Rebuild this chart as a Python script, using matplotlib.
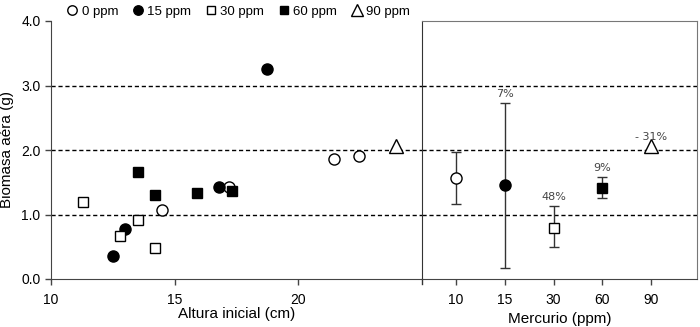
import numpy as np
import matplotlib.pyplot as plt

plt.rcParams['font.family'] = ['Liberation Sans', 'DejaVu Sans']

# initial height vs biomass, one list per mercury dose
h_0 = [14.5, 17.2, 21.45, 22.45]
b_0 = [1.07, 1.42, 1.86, 1.91]
h_15 = [12.5, 13.0, 16.8, 18.75]
b_15 = [0.36, 0.77, 1.43, 3.26]
h_30 = [11.3, 12.8, 13.5, 14.2]
b_30 = [1.19, 0.66, 0.91, 0.48]
h_60 = [13.5, 14.2, 15.9, 17.3]
b_60 = [1.66, 1.31, 1.33, 1.37]
h_90 = [23.95]
b_90 = [2.06]

# means per dose with error bar limits
doses = ['10', '15', '30', '60', '90']
mean_b = [1.56, 1.46, 0.79, 1.41, 2.06]
err_lo = [1.17, 0.17, 0.50, 1.26, 2.06]
err_hi = [1.97, 2.73, 1.13, 1.58, 2.06]
pct = ['', '7%', '48%', '9%', '- 31%']

styles = [('o', 'white', 8), ('o', 'black', 8), ('s', 'white', 7), ('s', 'black', 7), ('^', 'white', 10)]

fig = plt.figure(figsize=(7, 3.27), dpi=100)
bot = (327 - 279) / 327
top = (327 - 21) / 327
xl, xm, xr = 51 / 700, 422 / 700, 697 / 700
ax1 = fig.add_axes([xl, bot, xm - xl, top - bot])
ax2 = fig.add_axes([xm, bot, xr - xm, top - bot])

for ax in (ax1, ax2):
    ax.set_ylim(0, 4)
    for yv in (1, 2, 3):
        ax.axhline(yv, color='black', ls=(0, (3, 2)), lw=1, zorder=1)
    ax.tick_params(direction='out', length=4, width=1, color='#444444', labelsize=10)
    ax.tick_params(axis='x', pad=6)

# left panel
groups = [(h_0, b_0), (h_15, b_15), (h_30, b_30), (h_60, b_60), (h_90, b_90)]
labels = ['0 ppm', '15 ppm', '30 ppm', '60 ppm', '90 ppm']
handles = []
for (hx, by), (mk, fc, ms), lab in zip(groups, styles, labels):
    l, = ax1.plot(hx, by, ls='none', marker=mk, mfc=fc, mec='black', ms=ms, mew=1, zorder=3, label=lab)
    handles.append(l)
ax1.set_xlim(10, 25)
ax1.set_xticks([10, 15, 20])
ax1.set_yticks([0, 1, 2, 3, 4])
ax1.set_yticklabels(['0.0', '1.0', '2.0', '3.0', '4.0'])
ax1.spines['top'].set_visible(False)
ax1.spines['right'].set_visible(False)
for s in ('left', 'bottom'):
    ax1.spines[s].set_color('#444444')
ax1.set_xlabel('Altura inicial (cm)', fontsize=11, labelpad=0)
ax1.set_ylabel('Biomasa aéra (g)', fontsize=11, labelpad=5)

# right panel
pos = np.arange(1, len(doses) + 1)
for i in range(len(doses)):
    mk, fc, ms = styles[i]
    if err_hi[i] > err_lo[i]:
        ax2.errorbar(pos[i], mean_b[i], yerr=[[mean_b[i] - err_lo[i]], [err_hi[i] - mean_b[i]]],
                     fmt='none', ecolor='#333333', elinewidth=1, capsize=3.6, capthick=1, zorder=2)
    ax2.plot(pos[i], mean_b[i], marker=mk, mfc=fc, mec='black', ms=ms, mew=1, zorder=3)
    if pct[i]:
        ax2.text(pos[i], err_hi[i] + 0.06, pct[i], ha='center', va='bottom', fontsize=8,
                 color='#444444', family='DejaVu Sans')
ax2.set_xlim(0.3, 5.94)
ax2.set_xticks(pos)
ax2.set_xticklabels(doses)
ax2.set_yticks([])
ax2.tick_params(axis='y', left=False, labelleft=False)
ax2.spines['left'].set_color('#333333')
for s in ('top', 'right'):
    ax2.spines[s].set_color('#777777')
ax2.spines['bottom'].set_color('#444444')
ax2.plot([0.3, 0.3], [-0.07, 0], color='#333333', lw=1, clip_on=False)
ax2.set_xlabel('Mercurio (ppm)', fontsize=11, labelpad=4)

fig.legend(handles=handles, loc='upper left', bbox_to_anchor=(0.075, 1.02), ncol=5, frameon=False,
           fontsize=9.5, handletextpad=0.1, columnspacing=0.9, handlelength=1.2, markerscale=0.85)

fig.savefig('out.png', dpi=100)
